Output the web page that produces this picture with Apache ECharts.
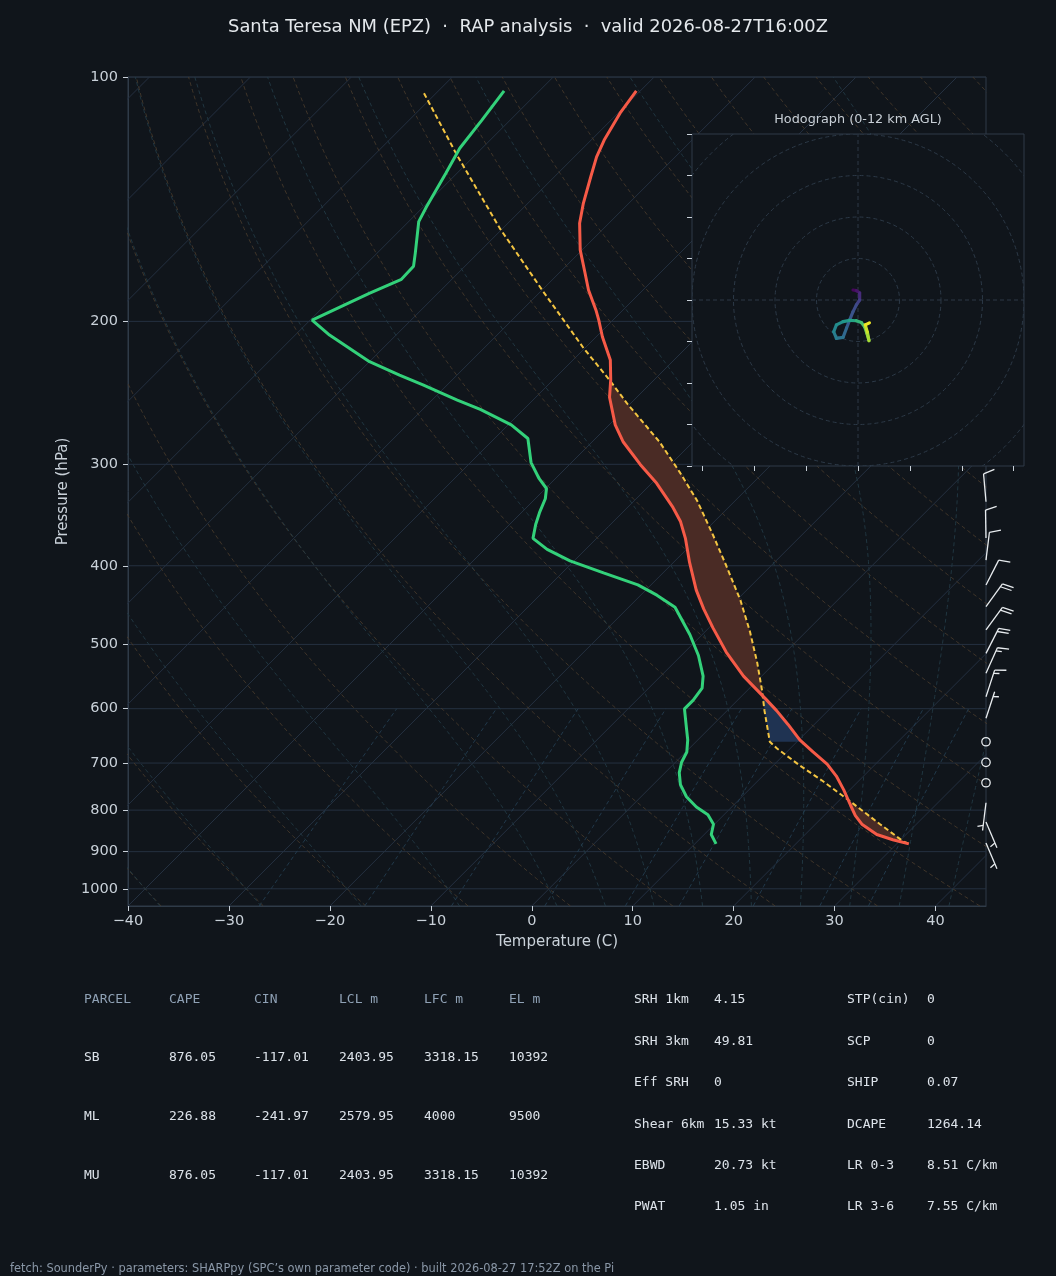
<!DOCTYPE html>
<html>
<head>
<meta charset="utf-8">
<script src="https://cdn.jsdelivr.net/npm/echarts@6.0.0/dist/echarts.min.js"></script>
<style>
  html, body { margin: 0; padding: 0; background: #10151b; }
  #chart { width: 1056px; height: 1276px; }
</style>
</head>
<body>
<div id="chart"></div>
<script>
// ---- sounding (hPa / degC), top -> surface ----
const tempP = [104, 110.8, 119.6, 125.4, 132.7, 143.1, 151.4, 163.3, 174.5, 183, 193.6, 199.3, 208.9, 223.2, 236.1, 248, 268.2, 281.6, 300.1, 316.6, 339, 352.5, 370.1, 396.3, 428.6, 452.1, 477.1, 510.9, 547, 583.1, 603.3, 627.4, 655.6, 678.3, 702, 726.3, 755.3, 789, 812.5, 832.6, 857.3, 870, 880.3]
const tempT = [-70.4, -69.8, -68.7, -67.8, -66.4, -64.5, -62.9, -60.2, -57.4, -55.4, -52.7, -51.4, -49.4, -46.3, -44.3, -42.7, -39.4, -36.9, -33.0, -29.5, -25.5, -23.4, -21.2, -18.4, -15.0, -12.4, -9.6, -5.9, -1.8, 2.6, 4.9, 7.4, 10.1, 12.6, 15.2, 17.3, 19.4, 21.6, 23.1, 24.6, 27.1, 29.2, 31.2]

const dewP = [104, 113, 122.4, 131.4, 144.5, 150.7, 164.9, 171, 177.5, 184.7, 199.3, 207.9, 224.2, 232.9, 239.5, 250, 256.7, 268.2, 278.8, 298.5, 311.9, 321.3, 330.8, 344.1, 355.9, 370.1, 381.9, 394.5, 408.1, 422.3, 434.8, 450, 486.5, 516, 547, 566.1, 585.9, 600.3, 627.4, 655.6, 678.3, 698.4, 719.3, 744.1, 770.2, 792.9, 810.3, 832.6, 857.3, 880.3]
const dewT = [-83.5, -82.8, -82.2, -81.1, -79.7, -79.0, -76.2, -75.1, -75.0, -76.8, -79.8, -76.6, -70.0, -65.7, -62.4, -57.5, -54.3, -49.7, -46.7, -44.0, -41.7, -39.9, -39.0, -38.2, -37.4, -36.3, -33.8, -30.4, -25.9, -21.3, -18.4, -15.4, -11.2, -8.3, -5.8, -4.7, -4.4, -4.4, -2.7, -1.0, 0.1, 0.6, 1.4, 2.7, 4.5, 6.5, 8.4, 9.9, 10.7, 12.1]

const parcelP = [104.7, 124.8, 153.6, 183.9, 215.9, 236.2, 252.2, 281.6, 307.4, 332.4, 366.6, 400.3, 441.3, 481.8, 526.2, 568.9, 603.3, 658.8, 671.8, 705.4, 737.1, 785.4, 832.6, 874.2, 880.3]
const parcelT = [-91.2, -81.8, -70.3, -59.7, -50.1, -44.4, -40.4, -33.3, -28.2, -23.8, -18.8, -14.4, -9.6, -5.6, -1.8, 1.4, 3.7, 7.3, 8.7, 12.7, 16.5, 21.7, 26.4, 30.4, 31.2]
const lclP = 658.8

// wind barbs (kt, direction from)
const barbP = [333.6, 369.8, 393.6, 422.5, 449.1, 479.9, 512.8, 542.7, 580.0, 616.6, 659.0, 698.6, 740.2, 783.4, 827.6, 878.0]
const barbSpd = [10, 10, 10, 10, 20, 20, 20, 15, 15, 5, 0, 0, 0, 5, 5, 5]
const barbDir = [355, 359, 7, 27, 36, 36, 27, 24, 18, 18, 0, 0, 0, 187, 157, 157]

// hodograph (kt) and height AGL (km)
const hodoU = [-2.4, -0.8, 0.8, 0.8, -0.8, -2.4, -4.0, -5.5, -7.2, -10.4, -11.7, -10.4, -7.2, -4.0, -0.8, 1.6, 3.2, 4.3, 5.3, 4.5, 3.5, 5.5]
const hodoV = [4.8, 4.5, 3.5, 0, -2.4, -5.6, -9.6, -13.5, -18.0, -18.5, -15.3, -12.0, -10.4, -9.8, -10.0, -10.9, -12.9, -16.1, -19.6, -15.5, -12.0, -11.0]
const hodoZ = [0, 0.4, 1.0, 2.0, 2.6, 2.9, 3.3, 3.7, 4.3, 4.8, 5.2, 5.7, 6.1, 6.6, 7.4, 8.2, 8.8, 9.4, 10.0, 10.8, 11.4, 12.0]
const hodoRings = [20, 40, 60, 80, 100]

// axes
const pressureTicks = [100, 200, 300, 400, 500, 600, 700, 800, 900, 1000]
const tempTicks = [-40, -30, -20, -10, 0, 10, 20, 30, 40]
const hodoXTicks = [-75, -50, -25, 0, 25, 50, 75]
const mixRatios = [0.4, 1, 2, 4, 7, 10, 16, 24, 32]   // g/kg

// table
const parcelHead = ['PARCEL', 'CAPE', 'CIN', 'LCL m', 'LFC m', 'EL m']
const parcelRows = [
  ['SB', '876.05', '-117.01', '2403.95', '3318.15', '10392'],
  ['ML', '226.88', '-241.97', '2579.95', '4000', '9500'],
  ['MU', '876.05', '-117.01', '2403.95', '3318.15', '10392']
]
const paramsA = [['SRH 1km', '4.15'], ['SRH 3km', '49.81'], ['Eff SRH', '0'], ['Shear 6km', '15.33 kt'], ['EBWD', '20.73 kt'], ['PWAT', '1.05 in']]
const paramsB = [['STP(cin)', '0'], ['SCP', '0'], ['SHIP', '0.07'], ['DCAPE', '1264.14'], ['LR 0-3', '8.51 C/km'], ['LR 3-6', '7.55 C/km']]

const TITLE = 'Santa Teresa NM (EPZ)  \u00b7  RAP analysis  \u00b7  valid 2026-08-27T16:00Z'
const FOOTER = 'fetch: SounderPy \u00b7 parameters: SHARPpy (SPC\u2019s own parameter code) \u00b7 built 2026-08-27 17:52Z on the Pi'

// ---- layout / skew ----
const BG = '#10151b'
const SPINE = '#2f3b48'
const TICK = '#c9d1d9'
const PLOT = { left: 128, top: 77, width: 858, height: 829 }
const P_TOP = 100, P_BOT = 1050, X_MIN = -40, X_MAX = 45
// 45 degree skew in pixels
const SKEW = (PLOT.height / Math.log10(P_BOT / P_TOP)) / (PLOT.width / (X_MAX - X_MIN))
const skewX = (t, p) => t + SKEW * Math.log10(P_BOT / p)
const pt = (t, p) => [skewX(t, p), Math.log10(p)]

function interp(ps, ts, p) {
  for (let i = 0; i < ps.length - 1; i++) {
    if (p >= ps[i] && p <= ps[i + 1]) {
      const f = Math.log(p / ps[i]) / Math.log(ps[i + 1] / ps[i])
      return ts[i] + f * (ts[i + 1] - ts[i])
    }
  }
  return NaN
}

// thermodynamic background
function logSpaced(p0, p1, n) {
  const out = []
  for (let i = 0; i <= n; i++) out.push(p0 * Math.pow(p1 / p0, i / n))
  return out
}
function moistLapse(p, tk) {
  const Rd = 287.04, Cp = 1005.7, Lv = 2.501e6, eps = 0.622
  const tc = tk - 273.15
  const es = 6.112 * Math.exp(17.67 * tc / (tc + 243.5))
  const rs = eps * es / Math.max(p - es, 0.05 * p)
  return (Rd * tk + Lv * rs) / (Cp + Lv * Lv * rs * eps / (Rd * tk * tk)) / p
}
function moistAdiabat(t0) {
  const run = (pEnd, dp) => {
    const out = []
    let p = 1000, tk = t0 + 273.15
    out.push([tk - 273.15, p])
    while (Math.abs(pEnd - p) > 1e-6) {
      const h = dp < 0 ? Math.max(dp, pEnd - p) : Math.min(dp, pEnd - p)
      const k1 = moistLapse(p, tk)
      const k2 = moistLapse(p + h / 2, tk + h / 2 * k1)
      const k3 = moistLapse(p + h / 2, tk + h / 2 * k2)
      const k4 = moistLapse(p + h, tk + h * k3)
      tk += h / 6 * (k1 + 2 * k2 + 2 * k3 + k4)
      p += h
      out.push([tk - 273.15, p])
    }
    return out
  }
  return run(P_BOT, 5).reverse().concat(run(P_TOP, -5).slice(1))
}

const series = []
function addLine(data, color, width, type, z, extra) {
  series.push(Object.assign({
    type: 'line', data, showSymbol: false, symbol: 'none', silent: true,
    animation: false, z, lineStyle: { color, width, type }
  }, extra || {}))
}

// isobars
pressureTicks.forEach(p => addLine([[X_MIN, Math.log10(p)], [X_MAX, Math.log10(p)]], '#243040', 1, 'solid', 1))
// isotherms
for (let t = -130; t <= 40; t += 10) addLine([pt(t, P_BOT), pt(t, P_TOP)], '#243040', 1, 'solid', 1)
// dry adiabats
const dryP = logSpaced(P_BOT, P_TOP, 60)
for (let t0 = -40; t0 <= 240; t0 += 10) {
  const th = t0 + 273.15
  addLine(dryP.map(p => pt(th * Math.pow(p / 1000, 0.2857) - 273.15, p)), '#45392b', 0.9, [4, 3], 1)
}
// moist adiabats
const moistT0 = [-40, -30, -20, -10]
for (let t = 0; t <= 95; t += 5) moistT0.push(t)
moistT0.forEach(t0 => addLine(moistAdiabat(t0).map(d => pt(d[0], d[1])), '#233a45', 0.9, [4, 3], 1))
// mixing ratio lines
const mixP = logSpaced(P_BOT, 600, 20)
mixRatios.forEach(w => {
  const wk = w / 1000
  addLine(mixP.map(p => {
    const e = p * wk / (0.622 + wk)
    const l = Math.log(e / 6.112)
    return pt(243.5 * l / (17.67 - l), p)
  }), '#243d50', 0.9, [4, 3], 1)
})

// CAPE / CIN shading
function shadeBetween(pHi, pLo, pick) {
  const fwd = [], back = []
  logSpaced(pHi, pLo, 300).forEach(p => {
    const te = interp(tempP, tempT, p), tp = interp(parcelP, parcelT, p)
    const ab = pick(te, tp)
    fwd.push(pt(ab[0], p))
    back.push(pt(ab[1], p))
  })
  return fwd.concat(back.reverse())
}
const capePoly = shadeBetween(880.3, 105, (te, tp) => [te, Math.max(te, tp)])
const cinPoly = shadeBetween(lclP, 540, (te, tp) => [Math.min(te, tp), te])
function polySeries(poly, fill) {
  return {
    type: 'custom', silent: true, animation: false, z: 2, data: [[0, 2]],
    renderItem: (params, api) => ({
      type: 'polygon', shape: { points: poly.map(q => api.coord(q)) }, style: { fill }
    })
  }
}
series.push(polySeries(capePoly, '#4a2b25'))
series.push(polySeries(cinPoly, '#1f3352'))

// profiles
addLine(parcelP.map((p, i) => pt(parcelT[i], p)), '#f4c542', 2, [5, 3], 3)
addLine(tempP.map((p, i) => pt(tempT[i], p)), '#f65a47', 3, 'solid', 4)
addLine(dewP.map((p, i) => pt(dewT[i], p)), '#33d17a', 3, 'solid', 4)

// wind barbs at the right edge
series.push({
  type: 'custom', silent: true, animation: false, z: 5, clip: false,
  data: barbP.map((p, i) => [X_MAX, Math.log10(p), barbSpd[i], barbDir[i]]),
  renderItem: (params, api) => {
    const base = api.coord([api.value(0), api.value(1)])
    const spd = api.value(2), dir = api.value(3) * Math.PI / 180
    const stroke = { stroke: '#e8ecef', lineWidth: 1.3, fill: null }
    const L = 28
    if (spd < 2.5) {
      return { type: 'circle', shape: { cx: base[0], cy: base[1], r: 0.15 * L }, style: Object.assign({}, stroke, { fill: 'none' }) }
    }
    const ux = Math.sin(dir), uy = -Math.cos(dir)
    const px = -uy, py = ux
    const at = (s, h) => [base[0] + ux * s + px * h, base[1] + uy * s + py * h]
    const seg = (a, b) => ({ type: 'line', shape: { x1: a[0], y1: a[1], x2: b[0], y2: b[1] }, style: stroke })
    const kids = [seg(base, at(L, 0))]
    const sp = 0.125 * L, fh = 0.4 * L, fw = 0.25 * L
    let r = Math.round(spd / 5) * 5
    let off = L
    const nFlag = Math.floor(r / 50); r -= nFlag * 50
    const nFull = Math.floor(r / 10); r -= nFull * 10
    for (let i = 0; i < nFlag; i++) {
      kids.push({ type: 'polygon', shape: { points: [at(off, 0), at(off - fw / 2, fh), at(off - fw, 0)] }, style: { fill: '#e8ecef' } })
      off -= fw + sp
    }
    for (let i = 0; i < nFull; i++) {
      kids.push(seg(at(off, 0), at(off + fw / 2, fh)))
      off -= sp
    }
    if (r >= 5) {
      if (off === L) off -= 1.5 * sp
      kids.push(seg(at(off, 0), at(off + fw / 4, fh / 2)))
    }
    return { type: 'group', children: kids }
  }
})

// ---- hodograph inset ----
const viridis = ['#440154', '#482878', '#3e4989', '#31688e', '#26828e', '#1f9e89', '#35b779', '#6ece58', '#b5de2b', '#fde725']
function viridisAt(f) {
  f = Math.min(1, Math.max(0, f)) * (viridis.length - 1)
  const i = Math.min(viridis.length - 2, Math.floor(f)), k = f - i
  const a = viridis[i], b = viridis[i + 1]
  const c = j => Math.round(parseInt(a.substr(j, 2), 16) * (1 - k) + parseInt(b.substr(j, 2), 16) * k)
  return 'rgb(' + c(1) + ',' + c(3) + ',' + c(5) + ')'
}
const hodoSeg = []
for (let i = 0; i < hodoU.length - 1; i++) {
  hodoSeg.push([hodoU[i], hodoV[i], hodoU[i + 1], hodoV[i + 1], (hodoZ[i] + hodoZ[i + 1]) / 2])
}
const inset = { xAxisIndex: 1, yAxisIndex: 1, silent: true, animation: false }
series.push(Object.assign({
  type: 'custom', z: 22, clip: true, data: hodoRings.map(r => [0, 0, r]),
  renderItem: (params, api) => {
    const c = api.coord([0, 0])
    const rr = api.size([api.value(2), 0])[0]
    return { type: 'circle', shape: { cx: c[0], cy: c[1], r: rr }, style: { stroke: '#2c3947', lineWidth: 1, lineDash: [4, 3], fill: 'none' } }
  }
}, inset))
series.push(Object.assign({ type: 'line', data: [[-80, 0], [80, 0]], showSymbol: false, symbol: 'none', z: 22, lineStyle: { color: '#2c3947', width: 1, type: [4, 3] } }, inset))
series.push(Object.assign({ type: 'line', data: [[0, -80], [0, 80]], showSymbol: false, symbol: 'none', z: 22, lineStyle: { color: '#2c3947', width: 1, type: [4, 3] } }, inset))
series.push(Object.assign({
  type: 'custom', z: 23, clip: true, data: hodoSeg,
  renderItem: (params, api) => {
    const a = api.coord([api.value(0), api.value(1)])
    const b = api.coord([api.value(2), api.value(3)])
    return { type: 'line', shape: { x1: a[0], y1: a[1], x2: b[0], y2: b[1] }, style: { stroke: viridisAt(api.value(4) / 12), lineWidth: 3.2, lineCap: 'round' } }
  }
}, inset))

// ---- text ----
const texts = []
function addText(x, y, text, o) {
  texts.push({
    type: 'text', x, y, silent: true, z: 30,
    style: Object.assign({
      text, fill: '#dde3ea', font: '13px "DejaVu Sans Mono"',
      textAlign: 'left', align: 'left', textVerticalAlign: 'middle', verticalAlign: 'middle'
    }, o || {})
  })
}
addText(528, 27, TITLE, { font: '17.9px "DejaVu Sans"', fill: '#e4e8ec', textAlign: 'center', align: 'center' })
addText(858, 120, 'Hodograph (0-12 km AGL)', { font: '12.8px "DejaVu Sans"', fill: '#c8cfd6', textAlign: 'center', align: 'center' })
const colX = [84, 169, 254, 339, 424, 509]
parcelHead.forEach((h, i) => addText(colX[i], 1000, h, { fill: '#8fa1b5' }))
parcelRows.forEach((row, r) => row.forEach((v, i) => addText(colX[i], 1058 + r * 59, v)))
paramsA.forEach((kv, r) => { addText(634, 1000 + r * 41.4, kv[0]); addText(714, 1000 + r * 41.4, kv[1]) })
paramsB.forEach((kv, r) => { addText(847, 1000 + r * 41.4, kv[0]); addText(927, 1000 + r * 41.4, kv[1]) })
addText(10, 1269, FOOTER, { font: '11.4px "DejaVu Sans"', fill: '#8a97a7' })

const labelFont = { color: TICK, fontSize: 14.5, fontFamily: 'DejaVu Sans' }
const nameFont = { color: TICK, fontSize: 15, fontFamily: 'DejaVu Sans' }
const option = {
  backgroundColor: BG,
  animation: false,
  grid: [
    Object.assign({ show: true, backgroundColor: BG, borderColor: SPINE, borderWidth: 1, outerBoundsMode: 'none', containLabel: false }, PLOT),
    { left: 692, top: 134, width: 332, height: 332, show: true, backgroundColor: BG, borderColor: SPINE, borderWidth: 1, z: 20, outerBoundsMode: 'none', containLabel: false }
  ],
  xAxis: [
    {
      type: 'value', gridIndex: 0, min: X_MIN, max: X_MAX,
      axisLine: { show: true, onZero: false, lineStyle: { color: SPINE } },
      splitLine: { show: false },
      axisTick: { show: true, customValues: tempTicks, length: 5, lineStyle: { color: TICK } },
      axisLabel: Object.assign({ customValues: tempTicks, margin: 8, formatter: v => v < 0 ? '\u2212' + (-v) : String(v) }, labelFont),
      name: 'Temperature (C)', nameLocation: 'middle', nameGap: 29,
      nameTextStyle: nameFont
    },
    {
      type: 'value', gridIndex: 1, min: -80, max: 80, z: 21,
      axisLine: { show: false, onZero: false }, splitLine: { show: false }, axisLabel: { show: false },
      axisTick: { show: true, customValues: hodoXTicks, length: 5, lineStyle: { color: TICK } }
    }
  ],
  yAxis: [
    {
      type: 'value', gridIndex: 0, min: Math.log10(P_TOP), max: Math.log10(P_BOT), inverse: true,
      axisLine: { show: true, onZero: false, lineStyle: { color: SPINE } },
      splitLine: { show: false },
      axisTick: { show: true, customValues: pressureTicks.map(Math.log10), length: 5, lineStyle: { color: TICK } },
      axisLabel: Object.assign({ customValues: pressureTicks.map(Math.log10), margin: 10, formatter: v => String(Math.round(Math.pow(10, v))) }, labelFont),
      name: 'Pressure (hPa)', nameLocation: 'middle', nameGap: 56, nameRotate: 90,
      nameTextStyle: nameFont
    },
    {
      type: 'value', gridIndex: 1, min: -80, max: 80, interval: 20, z: 21,
      axisLine: { show: false, onZero: false }, splitLine: { show: false }, axisLabel: { show: false },
      axisTick: { show: true, length: 5, lineStyle: { color: TICK } }
    }
  ],
  graphic: { elements: texts },
  series
}

const chart = echarts.init(document.getElementById('chart'), null, { renderer: 'canvas' })
chart.setOption(option)
window.addEventListener('resize', () => chart.resize())
</script>
</body>
</html>
